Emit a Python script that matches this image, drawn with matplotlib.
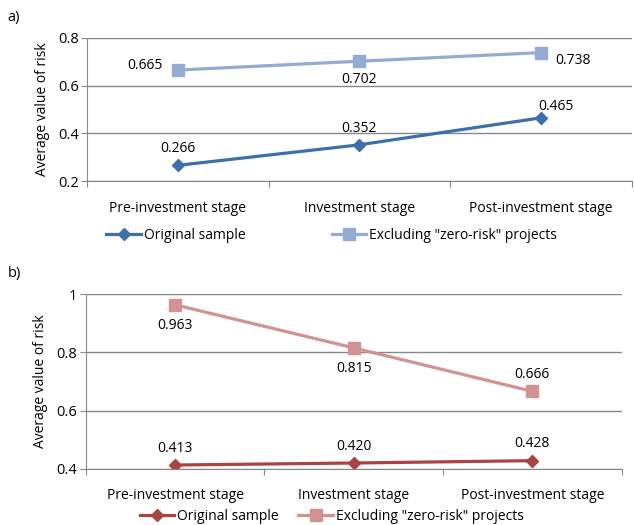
import numpy as np
import matplotlib
matplotlib.use("Agg")
import matplotlib.pyplot as plt

plt.rcParams['font.family'] = ['Open Sans', 'DejaVu Sans']

stages = ['Pre-investment stage', 'Investment stage', 'Post-investment stage']
a_orig = [0.266, 0.352, 0.465]
a_excl = [0.665, 0.702, 0.738]
b_orig = [0.413, 0.420, 0.428]
b_excl = [0.963, 0.815, 0.666]
labels = ['Original sample', 'Excluding "zero-risk" projects']

# label offsets in points (dx, dy)
a_orig_off = [(0, 12), (0, 12), (11, 8)]
a_excl_off = [(-24, 3), (0, -13), (23, -6)]
b_orig_off = [(0, 12), (0, 12), (0, 12)]
b_excl_off = [(0, -15), (0, -15), (0, 12)]

grid_c = '#888888'
fs = 10

fig = plt.figure(figsize=(6.35, 5.25), dpi=100)


def panel(rect, orig, excl, c1, c2, ylim, yticks, off1, off2, legend_xy, colsp, tag):
    ax = fig.add_axes(rect)
    x = np.arange(len(stages))
    ax.plot(x, orig, color=c1, lw=2.3, marker='D', ms=6.5, label=labels[0])
    ax.plot(x, excl, color=c2, lw=2.3, marker='s', ms=9, label=labels[1])
    for xi, v, o in zip(x, orig, off1):
        ax.annotate(f'{v:.3f}', (xi, v), xytext=o, textcoords='offset points',
                    ha='center', va='center', fontsize=fs)
    for xi, v, o in zip(x, excl, off2):
        ax.annotate(f'{v:.3f}', (xi, v), xytext=o, textcoords='offset points',
                    ha='center', va='center', fontsize=fs)
    ax.set_xlim(-0.5, 2.5)
    ax.set_ylim(*ylim)
    ax.set_yticks(yticks)
    ax.set_yticklabels([f'{t:g}' for t in yticks], fontsize=fs + 0.5)
    ax.yaxis.grid(True, color=grid_c, lw=1)
    ax.set_axisbelow(True)
    ax.set_xticks([-0.5, 0.5, 1.5, 2.5])
    ax.set_xticklabels([])
    ax.set_xticks(x, minor=True)
    ax.set_xticklabels(stages, minor=True, fontsize=fs)
    ax.tick_params(axis='x', which='major', length=4, color=grid_c)
    ax.tick_params(axis='x', which='minor', length=0, pad=14)
    ax.tick_params(axis='y', length=4, color=grid_c, pad=2)
    for s in ['top', 'right']:
        ax.spines[s].set_visible(False)
    for s in ['left', 'bottom']:
        ax.spines[s].set_color(grid_c)
    ax.set_ylabel('Average value of risk', fontsize=fs, labelpad=6)
    ax.legend(loc='center', bbox_to_anchor=legend_xy, ncol=2, frameon=False,
              fontsize=fs, handlelength=2.5, columnspacing=colsp, handletextpad=0.2)
    fig.text(0.012, rect[1] + rect[3] + 0.032, tag, fontsize=fs + 0.5)
    return ax


panel([0.137, 0.655, 0.858, 0.273], a_orig, a_excl, '#3d6fa9', '#94abd2',
      (0.2, 0.8), [0.2, 0.4, 0.6, 0.8], a_orig_off, a_excl_off, (0.449, -0.38), 6.2, 'a)')
panel([0.135, 0.107, 0.844, 0.333], b_orig, b_excl, '#a94442', '#d39292',
      (0.4, 1.0), [0.4, 0.6, 0.8, 1.0], b_orig_off, b_excl_off, (0.459, -0.27), 1.4, 'b)')

fig.savefig('out.png', dpi=100)
